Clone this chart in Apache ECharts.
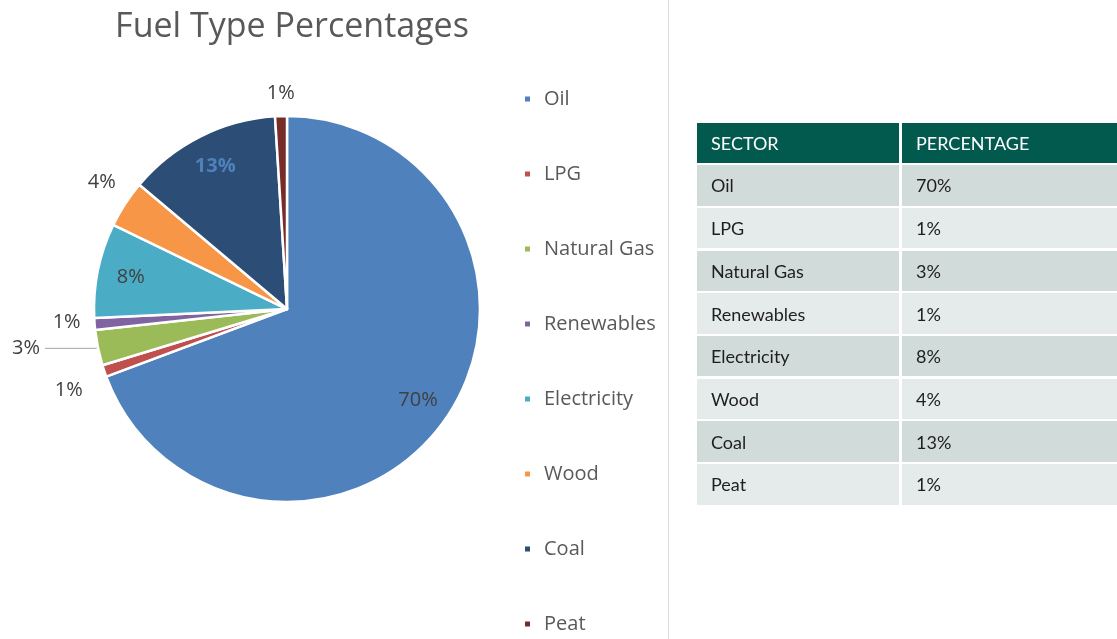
<!DOCTYPE html>
<html><head><meta charset="utf-8">
<script src="https://cdn.jsdelivr.net/npm/echarts@6/dist/echarts.min.js"></script>
<style>
html,body{margin:0;padding:0;background:#fff;width:1117px;height:639px;overflow:hidden;}
#chart{position:absolute;left:0;top:0;width:1117px;height:639px;}
#tbl{position:absolute;left:697px;top:123px;display:grid;grid-template-columns:202px 215px;column-gap:3px;row-gap:2.2px;grid-template-rows:40px;grid-auto-rows:40.5px;font-family:Lato,'Noto Sans',sans-serif;font-size:18px;color:#1e1e1e;}
#tbl div{display:flex;align-items:center;padding-left:14px;box-sizing:border-box;}
#tbl .h{background:#02594e;color:#fff;}
#tbl .d{background:#d1dbd9;}
#tbl .l{background:#e5ebea;}
</style>
</head><body>
<div id="chart"></div>
<div id="tbl"></div>
<script>
const categories = ['Oil', 'LPG', 'Natural Gas', 'Renewables', 'Electricity', 'Wood', 'Coal', 'Peat'];
const percentages = [70, 1, 3, 1, 8, 4, 13, 1];
const tableHeaders = ['SECTOR', 'PERCENTAGE'];
const chartTitle = 'Fuel Type Percentages';

const colors = ['#4f81bd', '#c0504d', '#9bbb59', '#8064a2', '#4bacc6', '#f79646', '#2c4d75', '#772c2a'];
const insideIdx = [0, 4, 6];
const nudges = {1: [1, 16], 3: [9, -2], 5: [12, -16], 7: [27, -13]};

// table
const tbl = document.getElementById('tbl');
tableHeaders.forEach(h => { const d = document.createElement('div'); d.className = 'h'; d.textContent = h; tbl.appendChild(d); });
categories.forEach((c, i) => {
  const cls = i % 2 === 0 ? 'd' : 'l';
  [c, percentages[i] + '%'].forEach(t => { const d = document.createElement('div'); d.className = cls; d.textContent = t; tbl.appendChild(d); });
});

const chart = echarts.init(document.getElementById('chart'), null, {renderer: 'canvas'});
const center = [287, 309];
const R = 193;
chart.setOption({
  animation: false,
  backgroundColor: '#fff',
  title: {
    text: chartTitle, left: 287, top: 5, textAlign: 'center',
    textStyle: {fontFamily: 'Open Sans', fontSize: 34, fontWeight: 'normal', color: '#595959'}
  },
  legend: {
    orient: 'vertical', left: 523, top: 89, height: 548, padding: 0, icon: 'rect', itemWidth: 7, itemHeight: 7, itemGap: 55,
    data: categories,
    textStyle: {fontFamily: 'Open Sans', fontSize: 20, color: '#595959', padding: [0, 0, 0, 8]}
  },
  graphic: [{type: 'line', shape: {x1: 668.5, y1: 0, x2: 668.5, y2: 639}, style: {stroke: '#d9d9d9', lineWidth: 1}}],
  series: [
    {
      type: 'pie', center: center, radius: R, startAngle: 90, clockwise: true,
      avoidLabelOverlap: false,
      itemStyle: {borderColor: '#fff', borderWidth: 2.5},
      emphasis: {disabled: true},
      label: {show: true, position: 'outside', formatter: p => p.value + '%', fontFamily: 'Open Sans', fontSize: 20, color: '#404040'},
      labelLine: {show: false, length: 10, length2: 8},
      labelLayout: function (p) { const o = nudges[p.dataIndex]; return o ? {dx: o[0], dy: o[1]} : {}; },
      data: categories.map((c, i) => {
        const item = {name: c, value: percentages[i], itemStyle: {color: colors[i]}};
        if (insideIdx.indexOf(i) >= 0) item.label = {show: false};
        if (c === 'Natural Gas') item.labelLine = {show: true, length: 3, length2: 50, lineStyle: {color: '#a6a6a6', width: 1}};
        return item;
      })
    },
    {
      type: 'pie', center: center, radius: [120, R], startAngle: 90, clockwise: true, silent: true,
      avoidLabelOverlap: false,
      itemStyle: {color: 'rgba(0,0,0,0)', borderWidth: 0},
      label: {show: true, position: 'inside', formatter: p => p.value + '%', fontFamily: 'Open Sans', fontSize: 20, color: '#404040'},
      labelLine: {show: false},
      data: categories.map((c, i) => {
        const item = {name: c, value: percentages[i]};
        if (insideIdx.indexOf(i) < 0) item.label = {show: false};
        if (c === 'Coal') item.label = {show: true, color: '#4f81bd', fontWeight: 'bold'};
        return item;
      })
    }
  ]
});
</script>
</body></html>
